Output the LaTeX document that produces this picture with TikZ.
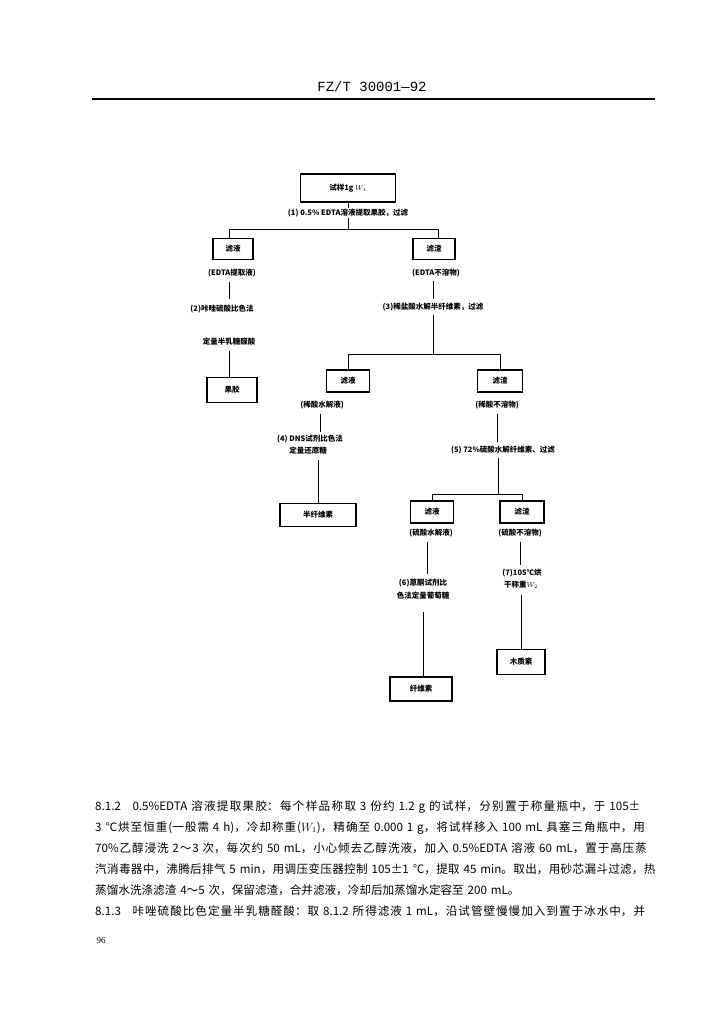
\documentclass[tikz,border=0pt]{standalone}
\usepackage{fontspec}
\setmainfont{Liberation Serif}
\newfontfamily\cjk{Noto Sans CJK SC}
\newfontfamily\hdr{Liberation Mono}
\XeTeXlinebreaklocale "zh"
\XeTeXlinebreakskip=0pt plus 1.5pt
\newcommand\dfont{\cjk\bfseries\fontsize{7.5}{12.5}\selectfont}
\newcommand\bfont{\cjk\fontsize{11.6}{21}\selectfont}
\tikzset{
  bx/.style={draw, line width=1.1pt, inner sep=0pt, font=\dfont},
  lb/.style={inner sep=1pt, font=\dfont},
  ln/.style={line width=1pt},
}
\begin{document}
\begin{tikzpicture}[x=1pt,y=-1pt]
\useasboundingbox[fill=white] (0,0) rectangle (726,1024);
% header
\node[font=\hdr\fontsize{14}{14}\selectfont, inner sep=0pt] (H) at (372,86) {FZ/T 30001—92};
\draw[line width=1.3pt] (92,99) -- (655,99);
% level 0
\node[bx, minimum width=95pt, minimum height=28pt] (T) at (348,188) {试样1g $W_1$};
\node[lb] (L1) at (348,213) {(1) 0.5\% EDTA溶液提取果胶，过滤};
\coordinate (j1) at (348,230);
\node[bx, minimum width=40pt, minimum height=21pt] (A1) at (233,249) {滤液};
\node[bx, minimum width=42pt, minimum height=21pt] (B1) at (434,249) {滤渣};
\node[lb] (pA1) at (232,273) {(EDTA提取液)};
\node[lb] (pB1) at (436,273) {(EDTA不溶物)};
% left branch
\node[lb] (L2) at (222,309) {(2)咔唑硫酸比色法};
\node[lb] (L2b) at (229,342) {定量半乳糖醛酸};
\node[bx, minimum width=50pt, minimum height=25pt] (A2) at (232,390) {果胶};
% right branch
\node[lb] (L3) at (433,307) {(3)稀盐酸水解半纤维素，过滤};
\coordinate (j3) at (433,354);
\node[bx, minimum width=43pt, minimum height=22pt] (C1) at (348,381) {滤液};
\node[bx, minimum width=45pt, minimum height=22pt] (C2) at (500,381) {滤渣};
\node[lb] (pC1) at (322,405) {(稀酸水解液)};
\node[lb] (pC2) at (497,405) {(稀酸不溶物)};
\node[lb, align=left] (L4) at (310,445) {(4) DNS试剂比色法\\\phantom{(4) }定量还原糖};
\node[bx, minimum width=76pt, minimum height=23pt] (D) at (318,515) {半纤维素};
\node[lb] (L5) at (503,450) {(5) 72\%硫酸水解纤维素、过滤};
\coordinate (j5) at (498,494);
\node[bx, minimum width=43pt, minimum height=22pt] (E1) at (432,512) {滤液};
\node[bx, minimum width=44pt, minimum height=22pt] (E2) at (522,512) {滤渣};
\node[lb] (pE1) at (431,533) {(硫酸水解液)};
\node[lb] (pE2) at (520,533) {(硫酸不溶物)};
\node[lb, align=center] (L6) at (423,589) {(6)蒽酮试剂比\\色法定量葡萄糖};
\node[bx, minimum width=62pt, minimum height=24pt] (F) at (421,689) {纤维素};
\node[lb, align=left] (L7) at (522,579) {(7)105℃烘\\\ 干称重$W_2$};
\node[bx, minimum width=48pt, minimum height=25pt] (G) at (521,662) {木质素};
% connectors
\draw[ln] (T) -- (L1);
\draw[ln] (L1) -- (j1);
\draw[ln] (j1) -| ([xshift=-4pt]A1.north);
\draw[ln] (j1) -| ([xshift=4pt]B1.north);
\draw[ln, shorten <=4pt, shorten >=5pt] ([xshift=-3pt]pA1.south) -- ([xshift=-3pt]pA1.south |- L2.north);
\draw[ln, shorten <=4pt] (L2b.south) -- (L2b.south |- A2.north);
\draw[ln, shorten <=3pt, shorten >=3pt] (L3.north |- pB1.south) -- (L3.north);
\draw[ln, shorten <=3pt] (L3.south) -- (j3);
\draw[ln] (j3) -| (C1.north);
\draw[ln] (j3) -| (C2.north);
\draw[ln, shorten <=4pt, shorten >=2pt] ([xshift=-2pt]pC1.south) -- ([xshift=-2pt]pC1.south |- L4.north);
\draw[ln, shorten <=4pt] (D.north |- L4.south) -- (D.north);
\draw[ln, shorten <=4pt, shorten >=3pt] (pC2.south) -- (pC2.south |- L5.north);
\draw[ln, shorten <=3pt] (j5 |- L5.south) -- (j5);
\draw[ln] (j5) -| (E1.north);
\draw[ln] (j5) -| (E2.north);
\draw[ln, shorten <=4pt, shorten >=4pt] ([xshift=-4pt]pE1.south) -- ([xshift=-4pt]pE1.south |- L6.north);
\draw[ln, shorten <=12pt] (L6.south) -- (L6.south |- F.north);
\draw[ln, shorten <=4pt, shorten >=3pt] (pE2.south) -- (pE2.south |- L7.north);
\draw[ln, shorten <=5pt] (G.north |- L7.south) -- (G.north);
% body text
\node[anchor=north west, inner sep=0pt, text width=565pt, font=\bfont] (body) at (95,800) {%
\setlength\parindent{0pt}\tolerance=9999\hbadness=10000\emergencystretch=20pt
\noindent 8.1.2\quad 0.5\%EDTA 溶液提取果胶：每个样品称取 3 份约 1.2 g 的试样，分别置于称量瓶中，于 105±\linebreak
3 ℃烘至恒重(一般需 4 h)，冷却称重($W_1$)，精确至 0.000 1 g，将试样移入 100 mL 具塞三角瓶中，用\linebreak
70\%乙醇浸洗 2～3 次，每次约 50 mL，小心倾去乙醇洗液，加入 0.5\%EDTA 溶液 60 mL，置于高压蒸\linebreak
汽消毒器中，沸腾后排气 5 min，用调压变压器控制 105±1 ℃，提取 45 min。取出，用砂芯漏斗过滤，热\linebreak
蒸馏水洗涤滤渣 4～5 次，保留滤渣，合并滤液，冷却后加蒸馏水定容至 200 mL。\par
\parfillskip=0pt
\noindent 8.1.3\quad 咔唑硫酸比色定量半乳糖醛酸：取 8.1.2 所得滤液 1 mL，沿试管壁慢慢加入到置于冰水中，并\par};
\node[font=\fontsize{9}{9}\selectfont, inner sep=0pt] (pg) at (101,941) {96};
\end{tikzpicture}
\end{document}
